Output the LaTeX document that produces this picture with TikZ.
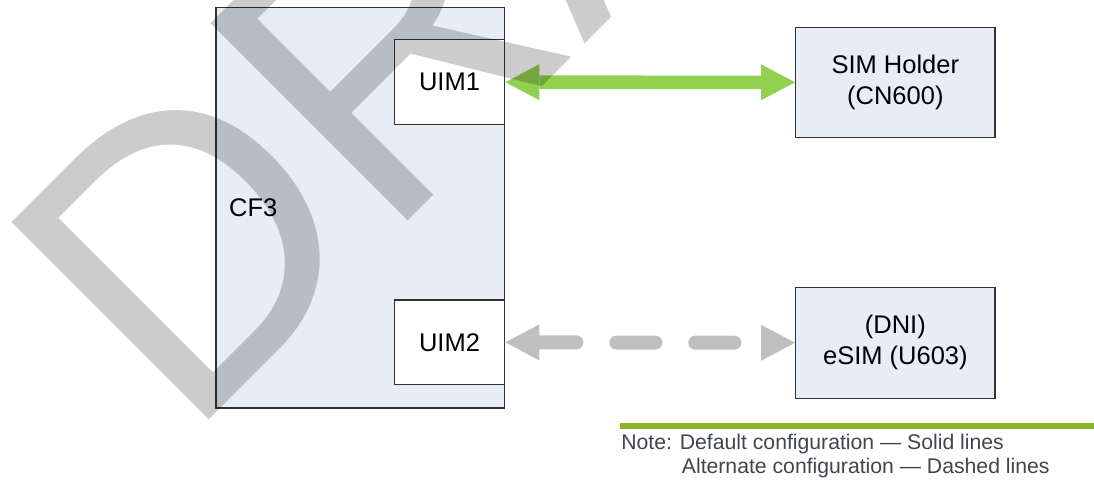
\documentclass[tikz,border=0pt]{standalone}
\usepackage{fontspec}
\usepackage{graphicx}
\setmainfont{Liberation Sans}
\usetikzlibrary{arrows.meta}
\definecolor{boxblue}{RGB}{230,237,247}
\definecolor{boxline}{RGB}{50,50,50}
\definecolor{simgreen}{RGB}{146,208,80}
\definecolor{altgray}{RGB}{191,191,191}
\definecolor{noteline}{RGB}{140,180,40}
\definecolor{notetext}{RGB}{64,70,78}
\newcommand\boxfnt{\fontsize{25.5}{31}\selectfont}
\newcommand\notefnt{\fontsize{21.2}{24}\selectfont}
\newcommand\wmfnt{\fontsize{390}{400}\selectfont}
\begin{document}
\begin{tikzpicture}[x=1pt,y=-1pt,
  blk/.style={draw=boxline, line width=1.3pt, fill=boxblue, inner sep=0pt, font=\boxfnt, align=center},
  subblk/.style={blk, fill=white},
  solidlink/.style={draw=simgreen, line width=13.5pt, {Triangle[length=34pt,width=36pt,line width=0pt]}-{Triangle[length=34pt,width=36pt,line width=0pt]}},
  altlink/.style={draw=altgray, line width=14pt, line cap=round, dash pattern=on 39pt off 40pt, dash phase=2pt, {Triangle[length=34pt,width=36pt,line width=0pt]}-{Triangle[length=34pt,width=36pt,line width=0pt]}},
  notestyle/.style={inner sep=0pt, text=notetext, font=\notefnt, anchor=base west},
  wmstyle/.style={inner sep=0pt, anchor=base west, rotate=45, text=black, text opacity=0.2, font=\wmfnt}
]
\useasboundingbox (0,0) rectangle (1094,485);
\fill[white] (0,0) rectangle (1094,485);

\node[blk, minimum width=288.5pt, minimum height=400.5pt] (cf3) at (360.25,207.75) {};
\node[inner sep=0pt, anchor=base west, font=\boxfnt] (cf3label) at (229,216.7) {CF3};
\node[subblk, minimum width=110.4pt, minimum height=85pt] (uim1) at (449.5,82.2) {UIM1};
\node[subblk, minimum width=110.4pt, minimum height=84.7pt] (uim2) at (449.5,342.35) {UIM2};
\node[blk, minimum width=199.3pt, minimum height=110pt] (sim) at (895.35,82.3) {SIM Holder\\(CN600)};
\node[blk, minimum width=199.3pt, minimum height=111pt] (esim) at (895.35,342.8) {(DNI)\\eSIM (U603)};

\draw[solidlink] (uim1.east) -- (sim.west);
\draw[altlink] (uim2.east) -- (esim.west);

\coordinate (nl) at (620,426);
\coordinate (nr) at (1094,426);
\draw[noteline, line width=5.7pt] (nl) -- (nr);
\node[notestyle] (note1) at (621.1,449.3) {Note: Default configuration — Solid lines};
\node[notestyle] (note2) at (681.7,473.3) {Alternate configuration — Dashed lines};

\node[wmstyle] (wm) at (186.4,442.9) {\scalebox{1}[1.04]{DRAFT}};
\end{tikzpicture}
\end{document}
